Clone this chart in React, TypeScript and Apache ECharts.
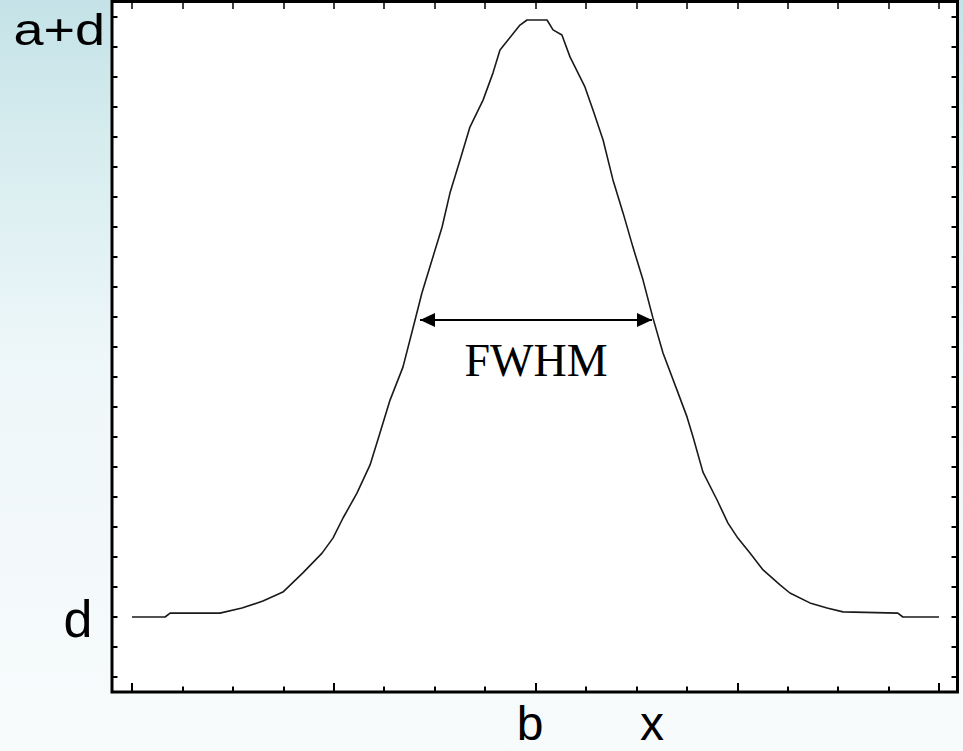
import React, { useEffect, useRef } from 'react';
import * as echarts from 'echarts';

// Curve (x in axis units with b = 0, y with d = 0 and a+d ≈ 19.9)
const curveX = [
  -2.0, -1.836, -1.811, -1.564, -1.455, -1.351, -1.252, -1.153, -1.058, -1.004,
  -0.954, -0.885, -0.82, -0.771, -0.721, -0.657, -0.597, -0.563, -0.513, -0.463,
  -0.424, -0.374, -0.325, -0.26, -0.211, -0.176, -0.077, -0.042, 0.057, 0.087,
  0.131, 0.171, 0.245, 0.285, 0.335, 0.384, 0.434, 0.483, 0.533, 0.582,
  0.632, 0.701, 0.751, 0.781, 0.83, 0.9, 0.954, 0.999, 1.063, 1.128,
  1.212, 1.261, 1.36, 1.445, 1.524, 1.796, 1.821, 2.0,
];
const curveY = [
  0, 0, 0.13, 0.13, 0.3, 0.53, 0.83, 1.47, 2.13, 2.63,
  3.3, 4.13, 5.07, 6.13, 7.23, 8.33, 9.9, 10.8, 11.9, 13.0,
  14.13, 15.23, 16.33, 17.23, 18.13, 18.9, 19.73, 19.9, 19.9, 19.57,
  19.4, 18.67, 17.67, 16.9, 15.9, 14.57, 13.47, 12.33, 11.23, 9.97,
  8.8, 7.57, 6.67, 6.0, 4.83, 3.9, 3.13, 2.67, 2.13, 1.57,
  1.07, 0.8, 0.47, 0.3, 0.17, 0.13, 0, 0,
];
const fwhmX = [-0.5725, 0.5775];
const halfMax = 9.9;
const yTickLabels = ['a+d', 'd'];
const xTickLabels = ['b', 'x'];
const fwhmLabel = 'FWHM';

export default function App() {
  const ref = useRef<HTMLDivElement>(null);
  useEffect(() => {
    const chart = echarts.init(ref.current!, null, { renderer: 'svg' });
    const tick = (len: number, w: number) => ({
      show: true,
      inside: true,
      length: len,
      lineStyle: { color: '#000', width: w },
    });
    const hidden = {
      axisLine: { show: false, onZero: false },
      axisLabel: { show: false },
      splitLine: { show: false },
      minorSplitLine: { show: false },
    };
    const sans = 'Liberation Sans, Arial, sans-serif';
    const label = (text: string, x: number, y: number, size: number, align: string, extra: any = {}) => ({
      type: 'text', x, y, z: 10, ...extra,
      style: {
        text, fontSize: size, lineHeight: size * 0.85, fontFamily: sans, fill: '#000',
        align, verticalAlign: 'middle', textAlign: align, textVerticalAlign: 'middle',
      },
    });
    chart.setOption({
      animation: false,
      grid: [
        { left: 132, top: 17, width: 807, height: 660, show: false },
        {
          left: 112, top: 1.5, width: 845.5, height: 690.5, show: true,
          backgroundColor: '#fff', borderColor: '#000', borderWidth: 3, z: -1,
        },
      ],
      xAxis: [
        {
          type: 'value', gridIndex: 0, position: 'bottom', offset: 15,
          min: -2, max: 2, interval: 1, ...hidden,
          axisTick: tick(9, 2),
          minorTick: { show: true, splitNumber: 4, length: 5.5, lineStyle: { color: '#000', width: 2 } },
          z: 3,
        },
        {
          type: 'value', gridIndex: 0, position: 'top', offset: 15.5,
          min: -2, max: 2, interval: 0.25, ...hidden,
          axisTick: tick(7.5, 1.5),
          z: 3,
        },
        { type: 'value', gridIndex: 1, show: false },
      ],
      yAxis: [
        {
          type: 'value', gridIndex: 0, position: 'left', offset: 20,
          min: -2, max: 20, interval: 1, ...hidden,
          axisTick: tick(5.5, 2), z: 3,
        },
        {
          type: 'value', gridIndex: 0, position: 'right', offset: 18.5,
          min: -2, max: 20, interval: 1, ...hidden,
          axisTick: tick(6, 2), z: 3,
        },
        { type: 'value', gridIndex: 1, show: false },
      ],
      series: [
        {
          type: 'line',
          xAxisIndex: 0,
          yAxisIndex: 0,
          data: curveX.map((x, i) => [x, curveY[i]]),
          showSymbol: false,
          symbol: 'none',
          lineStyle: { color: '#1a1a1a', width: 1.6 },
          silent: true,
          markLine: {
            silent: true,
            animation: false,
            symbol: ['triangle', 'triangle'],
            symbolSize: [14, 15],
            symbolOffset: [[0, '50%'], [0, '50%']],
            lineStyle: { color: '#000', width: 2, type: 'solid' },
            label: {
              show: true,
              formatter: fwhmLabel,
              position: 'insideMiddleBottom',
              distance: 17,
              fontFamily: 'Liberation Serif, Times New Roman, serif',
              fontSize: 46,
              color: '#000',
            },
            data: [[{ coord: [fwhmX[0], halfMax] }, { coord: [fwhmX[1], halfMax] }]],
          },
        },
      ],
      graphic: [
        label(yTickLabels[0], 105, 29.4, 45, 'right', { scaleX: 1.2 }),
        label(yTickLabels[1], 78, 619, 52, 'center'),
        label(xTickLabels[0], 530, 723.4, 48, 'center'),
        label(xTickLabels[1], 652, 723.4, 48, 'center'),
      ],
    });
    return () => chart.dispose();
  }, []);
  return (
    <div
      ref={ref}
      style={{
        position: 'absolute',
        left: 0,
        top: 0,
        width: 963,
        height: 751,
        background: 'linear-gradient(to bottom, #c4e2e7 0%, #d6ecef 18%, #eef7f9 48%, #f8fbfc 100%)',
      }}
    />
  );
}
